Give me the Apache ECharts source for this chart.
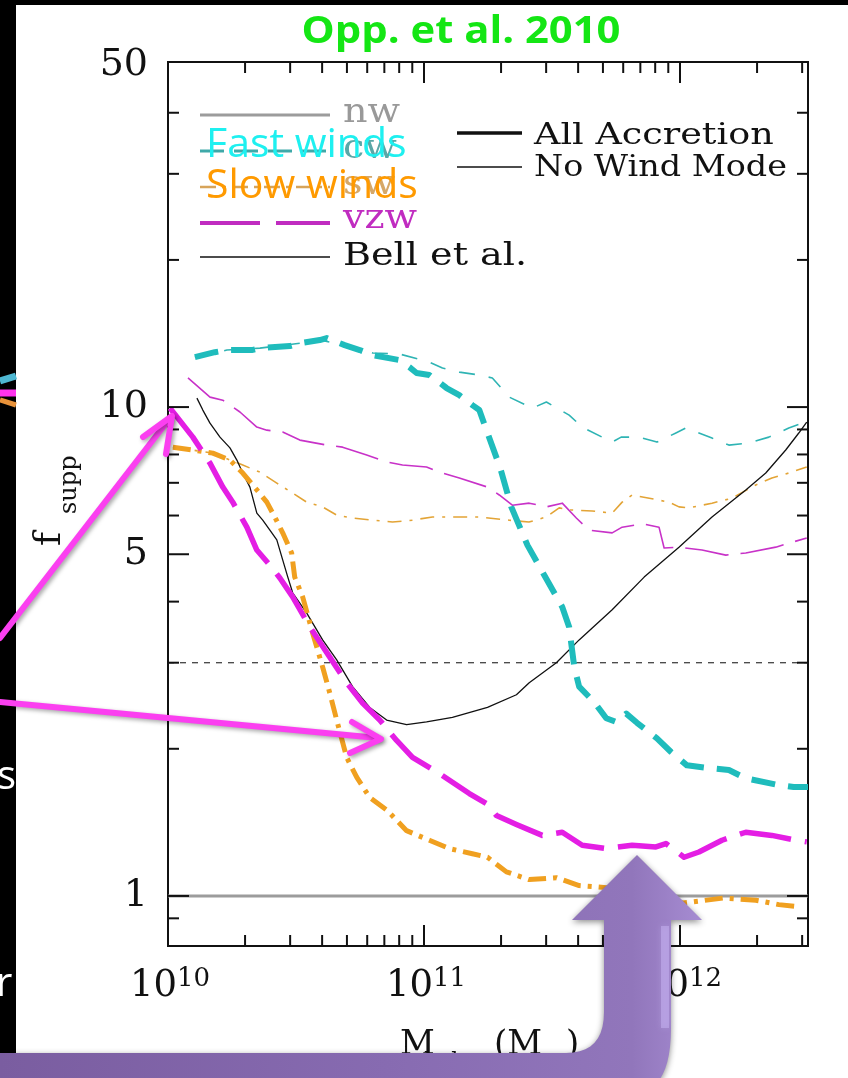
<!DOCTYPE html>
<html>
<head>
<meta charset="utf-8">
<script src="https://cdn.jsdelivr.net/npm/echarts@6/dist/echarts.min.js"></script>
<style>
  html, body { margin: 0; padding: 0; background: #000; }
  #chart { width: 848px; height: 1078px; }
</style>
</head>
<body>
<div id="chart"></div>
<script>
// Frame of the log-log panel: halo mass (Msun) and suppression factor
const X_MIN = 1e10, X_MAX = 3.1623e12;
const Y_MIN = 0.79, Y_MAX = 50.8;

// Curves as [log10(M_halo / Msun), f_supp]
// cw = constant winds, sw = slow winds, vzw = momentum-driven winds
const cwAllAccretion = [
  [10.105,12.65],[10.183,12.95],[10.23,13.08],[10.327,13.08],[10.359,13.2],[10.476,13.33],
  [10.515,13.51],[10.593,13.71],[10.62,13.84],[10.69,13.39],[10.749,13.08],[10.80,12.77],
  [10.904,12.48],[10.943,12.07],[10.971,11.74],[11.021,11.63],[11.088,10.94],[11.138,10.58],
  [11.189,10.09],[11.216,9.86],[11.244,8.97],[11.298,7.50],[11.341,6.25],[11.404,5.22],
  [11.47,4.53],[11.54,3.90],[11.567,3.55],[11.587,2.94],[11.606,2.68],[11.665,2.49],
  [11.712,2.31],[11.75,2.27],[11.79,2.36],[11.832,2.26],[11.91,2.10],[11.965,1.97],
  [12.027,1.85],[12.101,1.83],[12.191,1.81],[12.257,1.74],[12.374,1.69],[12.444,1.67],[12.50,1.67]
];
const cwNoWindMode = [
  [10.105,12.65],[10.23,13.08],[10.359,13.2],[10.515,13.51],[10.593,13.71],[10.69,13.39],
  [10.80,12.9],[10.904,12.84],[11.021,12.36],[11.072,12.02],[11.138,11.79],[11.216,11.63],
  [11.267,11.47],[11.333,10.48],[11.423,9.95],[11.478,10.24],[11.567,9.63],[11.618,9.10],
  [11.696,8.68],[11.735,8.48],[11.77,8.68],[11.84,8.68],[11.91,8.48],[11.984,8.85],
  [12.023,9.06],[12.074,8.85],[12.125,8.64],[12.191,8.36],[12.269,8.44],[12.347,8.68],
  [12.425,9.06],[12.491,9.32]
];
const swAllAccretion = [
  [10.019,8.28],[10.097,8.17],[10.175,8.05],[10.242,7.79],[10.292,7.33],[10.347,6.77],
  [10.386,6.39],[10.417,5.96],[10.448,5.53],[10.483,5.03],[10.495,4.49],[10.526,4.09],
  [10.565,3.45],[10.604,2.94],[10.632,2.60],[10.659,2.29],[10.698,1.92],[10.737,1.75],
  [10.788,1.59],[10.854,1.50],[10.932,1.36],[11.021,1.30],[11.099,1.25],[11.189,1.22],
  [11.248,1.20],[11.322,1.12],[11.411,1.08],[11.517,1.09],[11.606,1.05],[11.712,1.04],
  [11.84,1.00],[12.012,0.967],[12.168,0.99],[12.296,0.98],[12.386,0.96],[12.468,0.95]
];
const swNoWindMode = [
  [10.019,8.28],[10.175,8.05],[10.292,7.61],[10.359,7.36],[10.425,6.99],[10.487,6.67],
  [10.542,6.39],[10.604,6.25],[10.659,6.01],[10.721,5.93],[10.799,5.87],[10.877,5.82],
  [10.955,5.87],[11.033,5.96],[11.111,5.96],[11.216,5.96],[11.333,5.87],[11.41,5.82],
  [11.478,5.96],[11.528,6.22],[11.575,6.16],[11.657,6.13],[11.735,6.07],[11.774,6.39],
  [11.813,6.61],[11.88,6.51],[11.957,6.39],[11.996,6.25],[12.035,6.22],[12.125,6.36],
  [12.203,6.51],[12.296,6.93],[12.359,7.16],[12.425,7.33],[12.495,7.54]
];
const vzwAllAccretion = [
  [10.008,9.95],[10.097,8.68],[10.164,7.68],[10.214,6.86],[10.253,6.39],[10.308,5.68],
  [10.347,5.10],[10.398,4.75],[10.437,4.47],[10.487,4.09],[10.554,3.55],[10.632,3.08],
  [10.698,2.73],[10.76,2.48],[10.827,2.29],[10.893,2.08],[10.955,1.92],[11.06,1.78],
  [11.177,1.62],[11.248,1.54],[11.283,1.46],[11.361,1.40],[11.462,1.33],[11.54,1.35],
  [11.618,1.27],[11.712,1.25],[11.813,1.27],[11.906,1.26],[11.945,1.28],[12.016,1.20],
  [12.074,1.23],[12.164,1.30],[12.257,1.35],[12.359,1.33],[12.452,1.30],[12.495,1.29]
];
const vzwNoWindMode = [
  [10.078,11.47],[10.164,10.48],[10.214,10.33],[10.281,9.77],[10.347,9.10],[10.386,8.97],
  [10.448,8.89],[10.515,8.56],[10.62,8.36],[10.682,8.28],[10.776,7.98],[10.854,7.72],
  [10.916,7.61],[11.01,7.54],[11.072,7.33],[11.138,7.16],[11.248,6.86],[11.294,6.61],
  [11.345,6.30],[11.411,6.36],[11.478,6.25],[11.54,6.36],[11.595,5.93],[11.645,5.60],
  [11.735,5.53],[11.774,5.68],[11.852,5.77],[11.918,5.68],[11.938,5.15],[11.996,5.17],
  [12.086,5.10],[12.179,4.98],[12.257,5.03],[12.374,5.17],[12.495,5.40]
];
const bellEtAl = [
  [10.113,10.43],[10.136,9.86],[10.164,9.27],[10.203,8.68],[10.242,8.25],[10.269,7.79],
  [10.292,7.33],[10.32,6.86],[10.347,6.07],[10.37,5.87],[10.398,5.60],[10.425,5.35],
  [10.448,4.87],[10.468,4.49],[10.487,4.17],[10.542,3.79],[10.604,3.34],[10.659,3.04],
  [10.721,2.68],[10.788,2.43],[10.854,2.29],[10.932,2.24],[11.01,2.27],[11.111,2.32],
  [11.248,2.43],[11.361,2.58],[11.411,2.73],[11.517,3.00],[11.606,3.34],[11.735,3.85],
  [11.86,4.49],[11.996,5.17],[12.125,5.96],[12.257,6.77],[12.335,7.33],[12.413,8.17],
  [12.464,8.85],[12.495,9.32]
];
const noWindLevel = 1;      // nw: no suppression
const referenceLevel = 3;   // dashed guide

// Axis ticks and labels
const xMajorTicks = [1e10, 1e11, 1e12];
const xMinorTicks = [2e10,3e10,4e10,5e10,6e10,7e10,8e10,9e10,
                     2e11,3e11,4e11,5e11,6e11,7e11,8e11,9e11, 2e12,3e12];
const xTickExponents = [10, 11, 12];
const yMajorTicks = [1, 5, 10];
const yMinorTicks = [0.9, 2, 3, 4, 6, 7, 8, 9, 20, 30, 40];
const yTickLabels = [50, 10, 5, 1];

const COLORS = {
  nw: '#9c9c9c', cw: '#1fbcbc', cwThin: '#2fb4b4', sw: '#f0a020', swThin: '#e3a436',
  vzw: '#e41ee4', vzwThin: '#c832c8', bell: '#111'
};

const SERIF = '"DejaVu Serif", "Liberation Serif", serif';
const SANS = '"Open Sans", "Noto Sans", sans-serif';

const toPoints = arr => arr.map(([lm, f]) => [Math.pow(10, lm), f]);

function curve(name, data, color, width, dash, z) {
  return {
    type: 'line', name, data, z, silent: true, animation: false,
    showSymbol: false, symbol: 'none', clip: true,
    lineStyle: { color, width, type: dash, cap: 'butt', join: 'round' }
  };
}

const chart = echarts.init(document.getElementById('chart'), null, { renderer: 'canvas' });

const series = [
  curve('nw', [[X_MIN, noWindLevel], [X_MAX, noWindLevel]], COLORS.nw, 3, 'solid', 2),
  curve('f = 3', [[X_MIN, referenceLevel], [X_MAX, referenceLevel]], '#444', 1.3, [6, 6], 2),
  curve('cw, no wind mode', toPoints(cwNoWindMode), COLORS.cwThin, 1.6, [16, 14], 3),
  curve('sw, no wind mode', toPoints(swNoWindMode), COLORS.swThin, 1.6, [14, 8, 3, 8], 3),
  curve('vzw, no wind mode', toPoints(vzwNoWindMode), COLORS.vzwThin, 1.6, [44, 12], 3),
  curve('Bell et al.', toPoints(bellEtAl), COLORS.bell, 1.3, 'solid', 4),
  curve('sw, all accretion', toPoints(swAllAccretion), COLORS.sw, 5, [18, 7, 4, 7], 5),
  curve('vzw, all accretion', toPoints(vzwAllAccretion), COLORS.vzw, 5.5, [52, 14], 6),
  curve('cw, all accretion', toPoints(cwAllAccretion), COLORS.cw, 6, [24, 13], 7),
  // inward ticks on bottom and top edges
  {
    type: 'custom', name: 'x ticks', coordinateSystem: 'cartesian2d', silent: true,
    animation: false, z: 10, clip: false,
    data: xMajorTicks.map(v => [v, Y_MIN, 1]).concat(xMinorTicks.map(v => [v, Y_MIN, 0])),
    renderItem(params, api) {
      const v = api.value(0), len = api.value(2) ? 21 : 11;
      const b = api.coord([v, Y_MIN]), t = api.coord([v, Y_MAX]);
      return { type: 'group', children: [
        { type: 'line', shape: { x1: b[0], y1: b[1], x2: b[0], y2: b[1] - len }, style: { stroke: '#111', lineWidth: 2 } },
        { type: 'line', shape: { x1: t[0], y1: t[1], x2: t[0], y2: t[1] + len }, style: { stroke: '#111', lineWidth: 2 } }
      ]};
    }
  },
  // inward ticks on left and right edges
  {
    type: 'custom', name: 'y ticks', coordinateSystem: 'cartesian2d', silent: true,
    animation: false, z: 10, clip: false,
    data: yMajorTicks.map(v => [X_MIN, v, 1]).concat(yMinorTicks.map(v => [X_MIN, v, 0])),
    renderItem(params, api) {
      const v = api.value(1), len = api.value(2) ? 21 : 11;
      const l = api.coord([X_MIN, v]), r = api.coord([X_MAX, v]);
      return { type: 'group', children: [
        { type: 'line', shape: { x1: l[0], y1: l[1], x2: l[0] + len, y2: l[1] }, style: { stroke: '#111', lineWidth: 2 } },
        { type: 'line', shape: { x1: r[0], y1: r[1], x2: r[0] - len, y2: r[1] }, style: { stroke: '#111', lineWidth: 2 } }
      ]};
    }
  },
  // 10^n labels under the bottom edge
  {
    type: 'custom', name: 'x labels', coordinateSystem: 'cartesian2d', silent: true,
    animation: false, z: 10, clip: false,
    data: xTickExponents.map(e => [Math.pow(10, e), Y_MIN, e]),
    renderItem(params, api) {
      const p = api.coord([api.value(0), Y_MIN]);
      return { type: 'group', children: [
        { type: 'text', x: p[0] + 9, y: p[1] + 40, style: { text: '10', font: '37px ' + SERIF, fill: '#111', align: 'right', verticalAlign: 'middle' } },
        { type: 'text', x: p[0] + 9, y: p[1] + 33, style: { text: String(api.value(2)), font: '26px ' + SERIF, fill: '#111', align: 'left', verticalAlign: 'middle' } }
      ]};
    }
  },
  // f_supp labels left of the frame
  {
    type: 'custom', name: 'y labels', coordinateSystem: 'cartesian2d', silent: true,
    animation: false, z: 10, clip: false,
    data: yTickLabels.map(v => [X_MIN, v]),
    renderItem(params, api) {
      const p = api.coord([X_MIN, api.value(1)]);
      return { type: 'text', x: p[0] - 20, y: p[1], style: { text: String(api.value(1)), font: '38px ' + SERIF, fill: '#111', align: 'right', verticalAlign: 'middle' } };
    }
  }
];

// ---- annotation layer ----
const PINK = '#fb3ff0';
const arrowShadow = { shadowBlur: 4, shadowColor: 'rgba(0,0,0,0.35)', shadowOffsetX: 2, shadowOffsetY: 2 };
function text(x, y, str, font, fill, opts) {
  return Object.assign({ type: 'text', x, y, z: 60, silent: true,
    style: { text: str, font, fill, align: 'left', verticalAlign: 'middle' } }, opts || {});
}
function seg(points, stroke, lineWidth, extra, z) {
  return { type: 'polyline', z: z || 55, silent: true, shape: { points },
    style: Object.assign({ stroke, lineWidth, fill: null }, extra || {}) };
}
// sample a quadratic bezier into polygon vertices
function quad(p0, c, p1, n) {
  const pts = [];
  for (let i = 1; i <= n; i++) {
    const t = i / n, u = 1 - t;
    pts.push([u * u * p0[0] + 2 * u * t * c[0] + t * t * p1[0], u * u * p0[1] + 2 * u * t * c[1] + t * t * p1[1]]);
  }
  return pts;
}
const bentArrow = [[0, 1053], [566, 1053]]
  .concat(quad([566, 1053], [604, 1053], [604, 1012], 10))
  .concat([[604, 920], [572, 920], [637, 855], [702, 920], [671, 920], [671, 1028]])
  .concat(quad([671, 1028], [671, 1078], [648, 1090], 10))
  .concat([[0, 1090]]);

const legendScale = { scaleX: 1.12 };
const graphic = [
  // key for wind models
  seg([[200, 115], [330, 115]], COLORS.nw, 3),
  seg([[200, 151], [330, 151]], '#3fa9a9', 3, { lineDash: [24, 10] }),
  seg([[200, 187], [330, 187]], '#d7a45a', 2.5, { lineDash: [16, 6, 4, 6] }),
  seg([[200, 223], [330, 223]], '#c02cc0', 4, { lineDash: [60, 16] }),
  seg([[200, 257], [330, 257]], '#111', 1.6),
  text(343, 113, 'nw', '34px ' + SERIF, '#999', legendScale),
  text(343, 149, 'cw', '34px ' + SERIF, '#5aa7a7', legendScale),
  text(343, 185, 'sw', '34px ' + SERIF, '#d6a868', legendScale),
  text(343, 219, 'vzw', '34px ' + SERIF, '#c02cc0', legendScale),
  text(343, 257, 'Bell et al.', '31px ' + SERIF, '#111', { scaleX: 1.23 }),
  // key for accretion modes
  seg([[457, 133], [522, 133]], '#111', 3.5),
  seg([[457, 167], [522, 167]], '#111', 1.5),
  text(534, 136, 'All Accretion', '29px ' + SERIF, '#111', { scaleX: 1.26 }),
  text(534, 168, 'No Wind Mode', '29px ' + SERIF, '#111', { scaleX: 1.15 }),
  // axis titles
  text(50, 546, 'f', '38px ' + SERIF, '#111', { rotation: Math.PI / 2 }),
  text(70, 514, 'supp', '24px ' + SERIF, '#111', { rotation: Math.PI / 2 }),
  text(400, 1045, 'M', '34px ' + SERIF, '#111'),
  text(424, 1062, 'halo', '22px ' + SERIF, '#111'),
  text(494, 1045, '(M', '34px ' + SERIF, '#111'),
  text(537, 1062, '\u2299', '22px ' + SERIF, '#111'),
  text(566, 1045, ')', '34px ' + SERIF, '#111'),
  // slide title and overlay captions
  { type: 'text', x: 461, y: 32, z: 60, silent: true, scaleX: 1.1,
    style: { text: 'Opp. et al. 2010', font: 'bold 38px ' + SANS, fill: '#14e614', align: 'center', verticalAlign: 'middle' } },
  text(206, 145, 'Fast winds', '41px ' + SANS, '#1ef0f0', { z: 70 }),
  text(206, 186, 'Slow winds', '41px ' + SANS, '#ff9a00', { z: 70 }),
  // dark slide margins
  { type: 'rect', z: 80, silent: true, shape: { x: 0, y: 0, width: 16, height: 1078 }, style: { fill: '#000' } },
  { type: 'rect', z: 80, silent: true, shape: { x: 0, y: 0, width: 848, height: 5 }, style: { fill: '#000' } },
  seg([[0, 381], [16, 376]], '#4fb8d2', 7, null, 81),
  seg([[0, 393], [16, 393]], '#ff33ee', 7, null, 81),
  seg([[0, 400], [16, 405]], '#e8923a', 5, null, 81),
  text(-3, 778, 's', '40px ' + SANS, '#fff', { z: 82 }),
  text(-4, 985, 'r', '40px ' + SANS, '#fff', { z: 82 }),
  // pink pointers
  seg([[0, 638], [170, 418]], PINK, 6, Object.assign({ lineCap: 'round' }, arrowShadow), 85),
  seg([[143, 437], [172, 416], [166, 454]], PINK, 6, Object.assign({ lineCap: 'round', lineJoin: 'round' }, arrowShadow), 85),
  seg([[0, 702], [378, 738]], PINK, 6, Object.assign({ lineCap: 'round' }, arrowShadow), 85),
  seg([[352, 722], [381, 739], [350, 753]], PINK, 6, Object.assign({ lineCap: 'round', lineJoin: 'round' }, arrowShadow), 85),
  // purple bent arrow
  {
    type: 'polygon', z: 90, silent: true,
    shape: { points: bentArrow },
    style: {
      fill: { type: 'linear', x: 0, y: 0, x2: 1, y2: 0, colorStops: [
        { offset: 0, color: '#7a5da0' }, { offset: 0.55, color: '#876bb1' },
        { offset: 0.9, color: '#9176bb' }, { offset: 1, color: '#a68cd2' } ] },
      shadowBlur: 6, shadowColor: 'rgba(0,0,0,0.45)', shadowOffsetY: 2
    }
  },
  // soft sheen along the right edge of the shaft
  seg([[665, 926], [665, 1028]], 'rgba(196,176,240,0.55)', 8, { shadowBlur: 6, shadowColor: 'rgba(196,176,240,0.6)' }, 91)
];

chart.setOption({
  backgroundColor: '#fff',
  animation: false,
  grid: { left: 168, right: 40, top: 62, bottom: 132, show: true, borderColor: '#111', borderWidth: 2,
          backgroundColor: 'transparent', containLabel: false, outerBoundsMode: 'none' },
  xAxis: { type: 'log', logBase: 10, min: X_MIN, max: X_MAX,
           axisLine: { show: false }, axisTick: { show: false }, axisLabel: { show: false }, splitLine: { show: false } },
  yAxis: { type: 'log', logBase: 10, min: Y_MIN, max: Y_MAX,
           axisLine: { show: false }, axisTick: { show: false }, axisLabel: { show: false }, splitLine: { show: false } },
  tooltip: { show: false },
  series,
  graphic
});
</script>
</body>
</html>
